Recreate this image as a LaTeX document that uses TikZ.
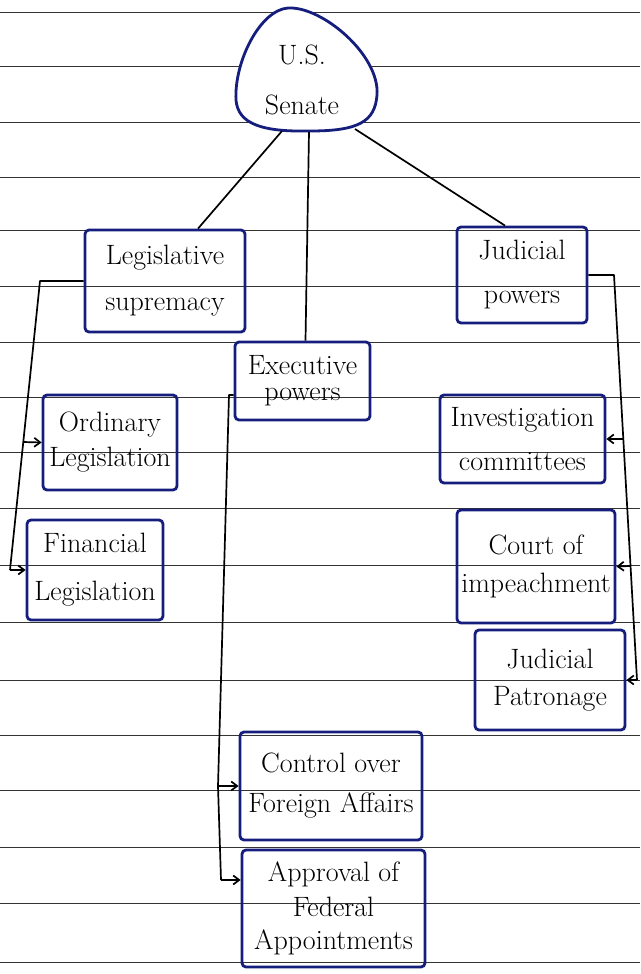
\documentclass[tikz,border=0pt]{standalone}
\usetikzlibrary{arrows.meta,calc}
\definecolor{boxblue}{RGB}{22,30,125}
\begin{document}
\begin{tikzpicture}[x=1pt,y=-1pt,
  box/.style={draw=boxblue,line width=2.8pt,rounded corners=4pt,align=center,inner sep=2pt,font=\fontsize{28}{33}\selectfont},
  conn/.style={draw=black,line width=1.7pt,line join=round},
  arr/.style={conn,-{Straight Barb[length=6pt,width=9pt]}},
  ruled/.style={draw=black!80,line width=1pt}]
\useasboundingbox (0,0) rectangle (640,974);
\foreach \y in {13,67,122,177,230,286,342,397,452,508,565,622,680,735,790,847,903,962}
  \draw[ruled] (0,\y) -- (640,\y);

% root
\draw[draw=boxblue,line width=2.8pt,fill=white]
  (288,8) .. controls (322,6) and (380,55) .. (377,95)
  .. controls (375,122) and (358,131) .. (310,131)
  .. controls (262,132) and (238,124) .. (236,100)
  .. controls (234,62) and (260,10) .. (288,8);
\node[align=center,font=\fontsize{28}{33}\selectfont] (sen) at (302,80) {U.S.\\[17pt]Senate};
\coordinate (senL) at (282,131);
\coordinate (senM) at (309,132);
\coordinate (senR) at (355,129);

% level 1
\node[box,minimum width=160pt,minimum height=102pt] (leg) at (165,281) {Legislative\\[13pt]supremacy};
\node[box,minimum width=130pt,minimum height=96pt] (jud) at (522,275) {Judicial\\[11pt]powers};
\node[box,minimum width=135pt,minimum height=78pt] (exe) at (302.5,381) {Executive\\[-7pt]powers};

% level 2
\node[box,minimum width=134pt,minimum height=95pt] (ord) at (110,442.5) {Ordinary\\[2pt]Legislation};
\node[box,minimum width=136pt,minimum height=100pt] (fin) at (95,570) {Financial\\[15pt]Legislation};
\node[box,minimum width=165pt,minimum height=88pt] (inv) at (522.5,439) {Investigation\\[11pt]committees};
\node[box,minimum width=158pt,minimum height=113pt] (court) at (536,566.5) {Court of\\[5pt]impeachment};
\node[box,minimum width=150pt,minimum height=100pt] (pat) at (550,680) {Judicial\\[4pt]Patronage};
\node[box,minimum width=182pt,minimum height=108pt] (ctrl) at (331,786) {Control over\\[7pt]Foreign Affairs};
\node[box,minimum width=183pt,minimum height=117pt] (appr) at (333.5,908.5) {Approval of\\[2pt]Federal\\[0pt]Appointments};

% root connectors
\draw[conn] (senL) -- ($(leg.north)+(33,0)$);
\draw[conn] (senM) -- ($(exe.north)+(3,0)$);
\draw[conn] (senR) -- ($(jud.north)+(-17,0)$);

% legislative branch
\coordinate (lb) at (40,281);
\coordinate (lo) at (23,442);
\coordinate (lf) at (10,570);
\draw[conn] (leg.west) -- (lb) -- (lf);
\draw[arr] (lo) -- (ord.west);
\draw[arr] (lf) -- (fin.west);

% executive branch
\coordinate (eb) at (229,395);
\coordinate (ec) at (218,786);
\coordinate (ea) at (221,880);
\draw[conn] (exe.west |- eb) -- (eb) -- (ec) -- (ea);
\draw[arr] (ec) -- (ctrl.west);
\draw[arr] (ea) -- (appr.west |- ea);

% judicial branch
\coordinate (jb) at (614,275);
\coordinate (ji) at (623,439);
\coordinate (jc) at (630,566);
\coordinate (jp) at (637,680);
\draw[conn] (jud.east) -- (jb) -- (jp);
\draw[arr] (ji) -- (inv.east);
\draw[arr] (jc) -- (court.east);
\draw[arr] (jp) -- (pat.east);
\end{tikzpicture}
\end{document}
